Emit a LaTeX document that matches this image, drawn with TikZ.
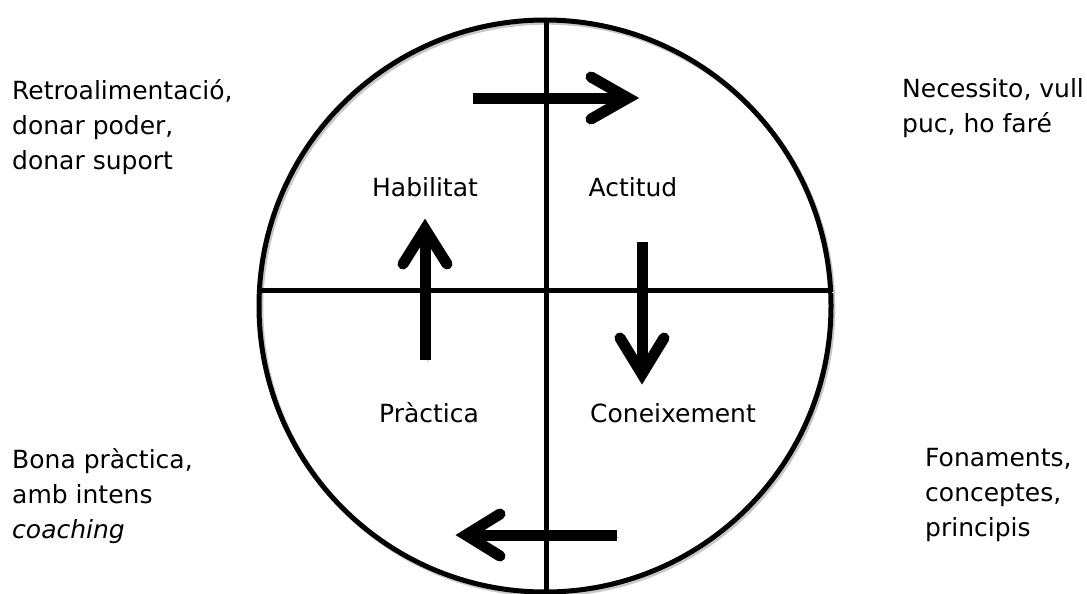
\documentclass[tikz,border=0pt]{standalone}
\usepackage{fontspec}
\setmainfont{DejaVu Sans}
\begin{document}
\begin{tikzpicture}[x=1pt,y=-1pt,
  shadowed/.style={preaction={draw=black!22, transform canvas={shift={(1.8pt,-2.2pt)}}}},
  frame/.style={line width=5pt, draw=black, shadowed},
  shaft/.style={line width=11pt, line cap=butt, shadowed},
  head/.style={line width=11pt, line cap=round, line join=miter, shadowed},
  lbl/.style={inner sep=0pt, font=\fontsize{25}{35}\selectfont},
  side/.style={lbl, align=left, anchor=north west}]
\useasboundingbox (0,0) rectangle (1087,594);
% circle and cross
\coordinate (c) at (545,306);
\node[circle, minimum size=572pt, inner sep=0pt, frame] (ring) at (c) {};
\coordinate (hl) at (258,290);
\coordinate (hr) at (832,290);
\coordinate (vt) at (546,20);
\coordinate (vb) at (546,594);
\draw[frame] (hl) -- (hr);
\draw[frame] (vt) -- (vb);
% arrows
% top: to the right
\coordinate (a1s) at (473,98);
\coordinate (a1e) at (624,98);
\coordinate (a1t) at (628,98);
\coordinate (a1u) at (591,77);
\coordinate (a1d) at (591,119);
\draw[shaft] (a1s) -- (a1e);
\draw[head] (a1u) -- (a1t) -- (a1d);
% right: down
\coordinate (a2s) at (642,242);
\coordinate (a2e) at (642,370);
\coordinate (a2t) at (642,374);
\coordinate (a2l) at (620,338);
\coordinate (a2r) at (664,338);
\draw[shaft] (a2s) -- (a2e);
\draw[head] (a2l) -- (a2t) -- (a2r);
% bottom: to the left
\coordinate (a3s) at (617,535);
\coordinate (a3e) at (470,535);
\coordinate (a3t) at (466,535);
\coordinate (a3u) at (500,514);
\coordinate (a3d) at (500,556);
\draw[shaft] (a3s) -- (a3e);
\draw[head] (a3u) -- (a3t) -- (a3d);
% left: up
\coordinate (a4s) at (425,360);
\coordinate (a4e) at (425,233);
\coordinate (a4t) at (425,229);
\coordinate (a4l) at (403,264);
\coordinate (a4r) at (447,264);
\draw[shaft] (a4s) -- (a4e);
\draw[head] (a4l) -- (a4t) -- (a4r);
% quadrant labels
\node[lbl, anchor=base] (hab) at (425,196) {Habilitat};
\node[lbl, anchor=base] (act) at (633,196) {Actitud};
\node[lbl, anchor=base] (pra) at (429,422) {Pràctica};
\node[lbl, anchor=base] (con) at (673,422) {Coneixement};
% side texts
\node[side] (tl) at (12,79) {Retroalimentació,\\donar poder,\\donar suport};
\node[side] (tr) at (902,78) {Necessito, vull\\puc, ho faré};
\node[side] (bl) at (12,448) {Bona pràctica,\\amb intens\\\textit{coaching}};
\node[side] (br) at (925,448) {Fonaments,\\conceptes,\\principis};
\end{tikzpicture}
\end{document}
